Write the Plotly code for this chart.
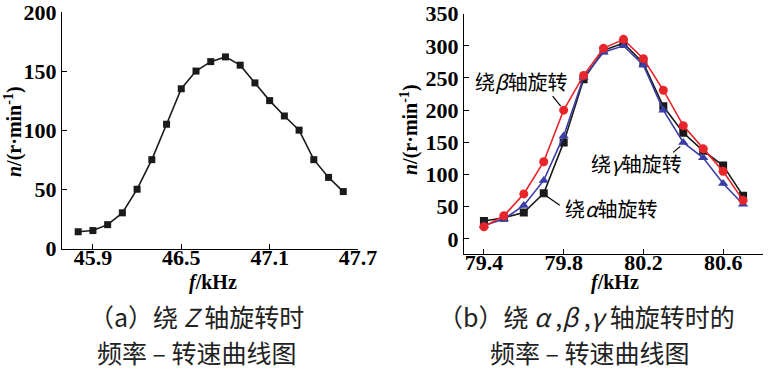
import plotly.graph_objects as go

# ---- data: panel (a) rotation about Z ----
f_z = [45.8, 45.9, 46.0, 46.1, 46.2, 46.3, 46.4, 46.5, 46.6, 46.7,
       46.8, 46.9, 47.0, 47.1, 47.2, 47.3, 47.4, 47.5, 47.6]
n_z = [14, 15, 20, 30, 50, 75, 105, 135, 150, 158,
       162, 155, 140, 125, 112, 100, 75, 60, 48]

# ---- data: panel (b) rotation about alpha, beta, gamma ----
f_abg = [79.4, 79.5, 79.6, 79.7, 79.8, 79.9, 80.0, 80.1, 80.2, 80.3, 80.4, 80.5, 80.6, 80.7]
n_alpha = [28, 33, 41, 71, 150, 248, 293, 304, 273, 206, 165, 137, 114, 67]
n_beta = [19, 36, 70, 120, 200, 254, 296, 310, 280, 231, 176, 140, 105, 60]
n_gamma = [21, 31, 52, 91, 160, 251, 290, 300, 270, 200, 150, 126, 86, 54]

xticks_a = [45.9, 46.5, 47.1, 47.7]
yticks_a = [0, 50, 100, 150, 200]
xticks_b = [79.4, 79.8, 80.2, 80.6]
yticks_b = [0, 50, 100, 150, 200, 250, 300, 350]

BLACK = "#1a1a1a"
RED = "#e8252b"
BLUE = "#3b3ea6"
SERIF = "Liberation Serif"
CJK = "Noto Sans CJK SC"

fig = go.Figure()

fig.add_trace(go.Scatter(x=f_z, y=n_z, mode="lines+markers", xaxis="x", yaxis="y",
                         line=dict(color=BLACK, width=1.6),
                         marker=dict(symbol="square", size=7, color=BLACK), showlegend=False))

fig.add_trace(go.Scatter(x=f_abg, y=n_alpha, mode="lines+markers", xaxis="x2", yaxis="y2",
                         line=dict(color=BLACK, width=1.6),
                         marker=dict(symbol="square", size=8, color=BLACK), showlegend=False))
fig.add_trace(go.Scatter(x=f_abg, y=n_gamma, mode="lines+markers", xaxis="x2", yaxis="y2",
                         line=dict(color=BLUE, width=1.6),
                         marker=dict(symbol="triangle-up", size=9, color=BLUE), showlegend=False))
fig.add_trace(go.Scatter(x=f_abg, y=n_beta, mode="lines+markers", xaxis="x2", yaxis="y2",
                         line=dict(color=RED, width=1.6),
                         marker=dict(symbol="circle", size=9, color=RED), showlegend=False))

W, H = 771, 382


def px(x):
    return x / W


def py(y):
    return 1 - y / H


tickfont = dict(family=SERIF, size=22, color="black", weight="bold")
axis_common = dict(showline=True, linecolor="black", linewidth=1.2, ticks="inside",
                   ticklen=5, tickwidth=1.2, tickcolor="black", showgrid=False,
                   zeroline=False, tickfont=tickfont, automargin=False,
                   ticklabeloverflow="allow")

fig.update_layout(
    width=W, height=H, margin=dict(l=0, r=0, t=0, b=0),
    paper_bgcolor="white", plot_bgcolor="white",
    xaxis=dict(domain=[px(62), px(358)], range=[45.69, 47.7], anchor="y",
               tickvals=xticks_a, ticktext=[f"{v:.1f}" for v in xticks_a],
               ticklabelstandoff=-12, **axis_common),
    yaxis=dict(domain=[py(249), py(12)], range=[-0.6, 200], anchor="x",
               tickvals=yticks_a, **axis_common),
    xaxis2=dict(domain=[px(464), px(763)], range=[79.3, 80.8], anchor="y2",
                tickvals=xticks_b, ticktext=[f"{v:.1f}" for v in xticks_b],
                ticklabelstandoff=-12, **axis_common),
    yaxis2=dict(domain=[py(254.3), py(13.6)], range=[-23.8, 350], anchor="x2",
                tickvals=yticks_b, **axis_common),
)

ann = []
titlefont = dict(family=SERIF, size=20, color="black")
# axis titles
ann.append(dict(text="<b><i>f</i>/kHz</b>", x=px(213), y=py(282), xref="paper", yref="paper",
                showarrow=False, font=titlefont, xanchor="center", yanchor="middle"))
ann.append(dict(text="<b><i>f</i>/kHz</b>", x=px(615), y=py(282), xref="paper", yref="paper",
                showarrow=False, font=titlefont, xanchor="center", yanchor="middle"))
ytitle = "<b><i>n</i>/(r·min<sup>-1</sup>)</b>"
ann.append(dict(text=ytitle, x=px(13), y=py(132), xref="paper", yref="paper", textangle=-90,
                showarrow=False, font=titlefont, xanchor="center", yanchor="middle"))
ann.append(dict(text=ytitle, x=px(409), y=py(130), xref="paper", yref="paper", textangle=-90,
                showarrow=False, font=titlefont, xanchor="center", yanchor="middle"))

# captions
capfont = dict(family=CJK, size=25, color="#222222")
ann.append(dict(text="（a）绕 <i>Z</i> 轴旋转时", x=px(197), y=py(316), xref="paper", yref="paper",
                showarrow=False, font=capfont, xanchor="center", yanchor="middle"))
ann.append(dict(text="频率 – 转速曲线图", x=px(197), y=py(352), xref="paper", yref="paper",
                showarrow=False, font=capfont, xanchor="center", yanchor="middle"))
ann.append(dict(text="（b）绕 <i>α</i> ,<i>β</i> ,<i>γ</i> 轴旋转时的", x=px(586), y=py(316),
                xref="paper", yref="paper",
                showarrow=False, font=capfont, xanchor="center", yanchor="middle"))
ann.append(dict(text="频率 – 转速曲线图", x=px(590), y=py(352), xref="paper", yref="paper",
                showarrow=False, font=capfont, xanchor="center", yanchor="middle"))

# series labels
labfont = dict(family=CJK, size=20, color="black")
ann.append(dict(text="绕<i>β</i>轴旋转", x=79.586, y=243.8, xref="x2", yref="y2",
                showarrow=False, font=labfont, xanchor="center", yanchor="middle"))
ann.append(dict(text="绕<i>γ</i>轴旋转", x=80.166, y=116.5, xref="x2", yref="y2",
                showarrow=False, font=labfont, xanchor="center", yanchor="middle"))
ann.append(dict(text="绕<i>α</i>轴旋转", x=80.04, y=46.6, xref="x2", yref="y2",
                showarrow=False, font=labfont, xanchor="center", yanchor="middle"))

fig.update_layout(annotations=ann)


# leader lines from each label to the data point it names (pixel offsets anchored on the point)
def leader(xv, yv, dx0, dy0, dx1, dy1):
    fig.add_shape(type="line", xref="x2", yref="y2", xsizemode="pixel", ysizemode="pixel",
                  xanchor=xv, yanchor=yv, x0=dx0, y0=dy0, x1=dx1, y1=dy1,
                  line=dict(color="black", width=1.2))


leader(f_abg[4], n_beta[4], -3, 4, -11, 14)
leader(f_abg[10], n_gamma[10], -3, -4, -10, -10)
leader(f_abg[3], n_alpha[3], 3, -3, 16, -12)

# remove the browser's default page margin so the figure sits at the window's top-left corner
fig.write_html("out.html", config={"displayModeBar": False},
               post_script="document.body.style.margin='0';document.body.style.padding='0';")
